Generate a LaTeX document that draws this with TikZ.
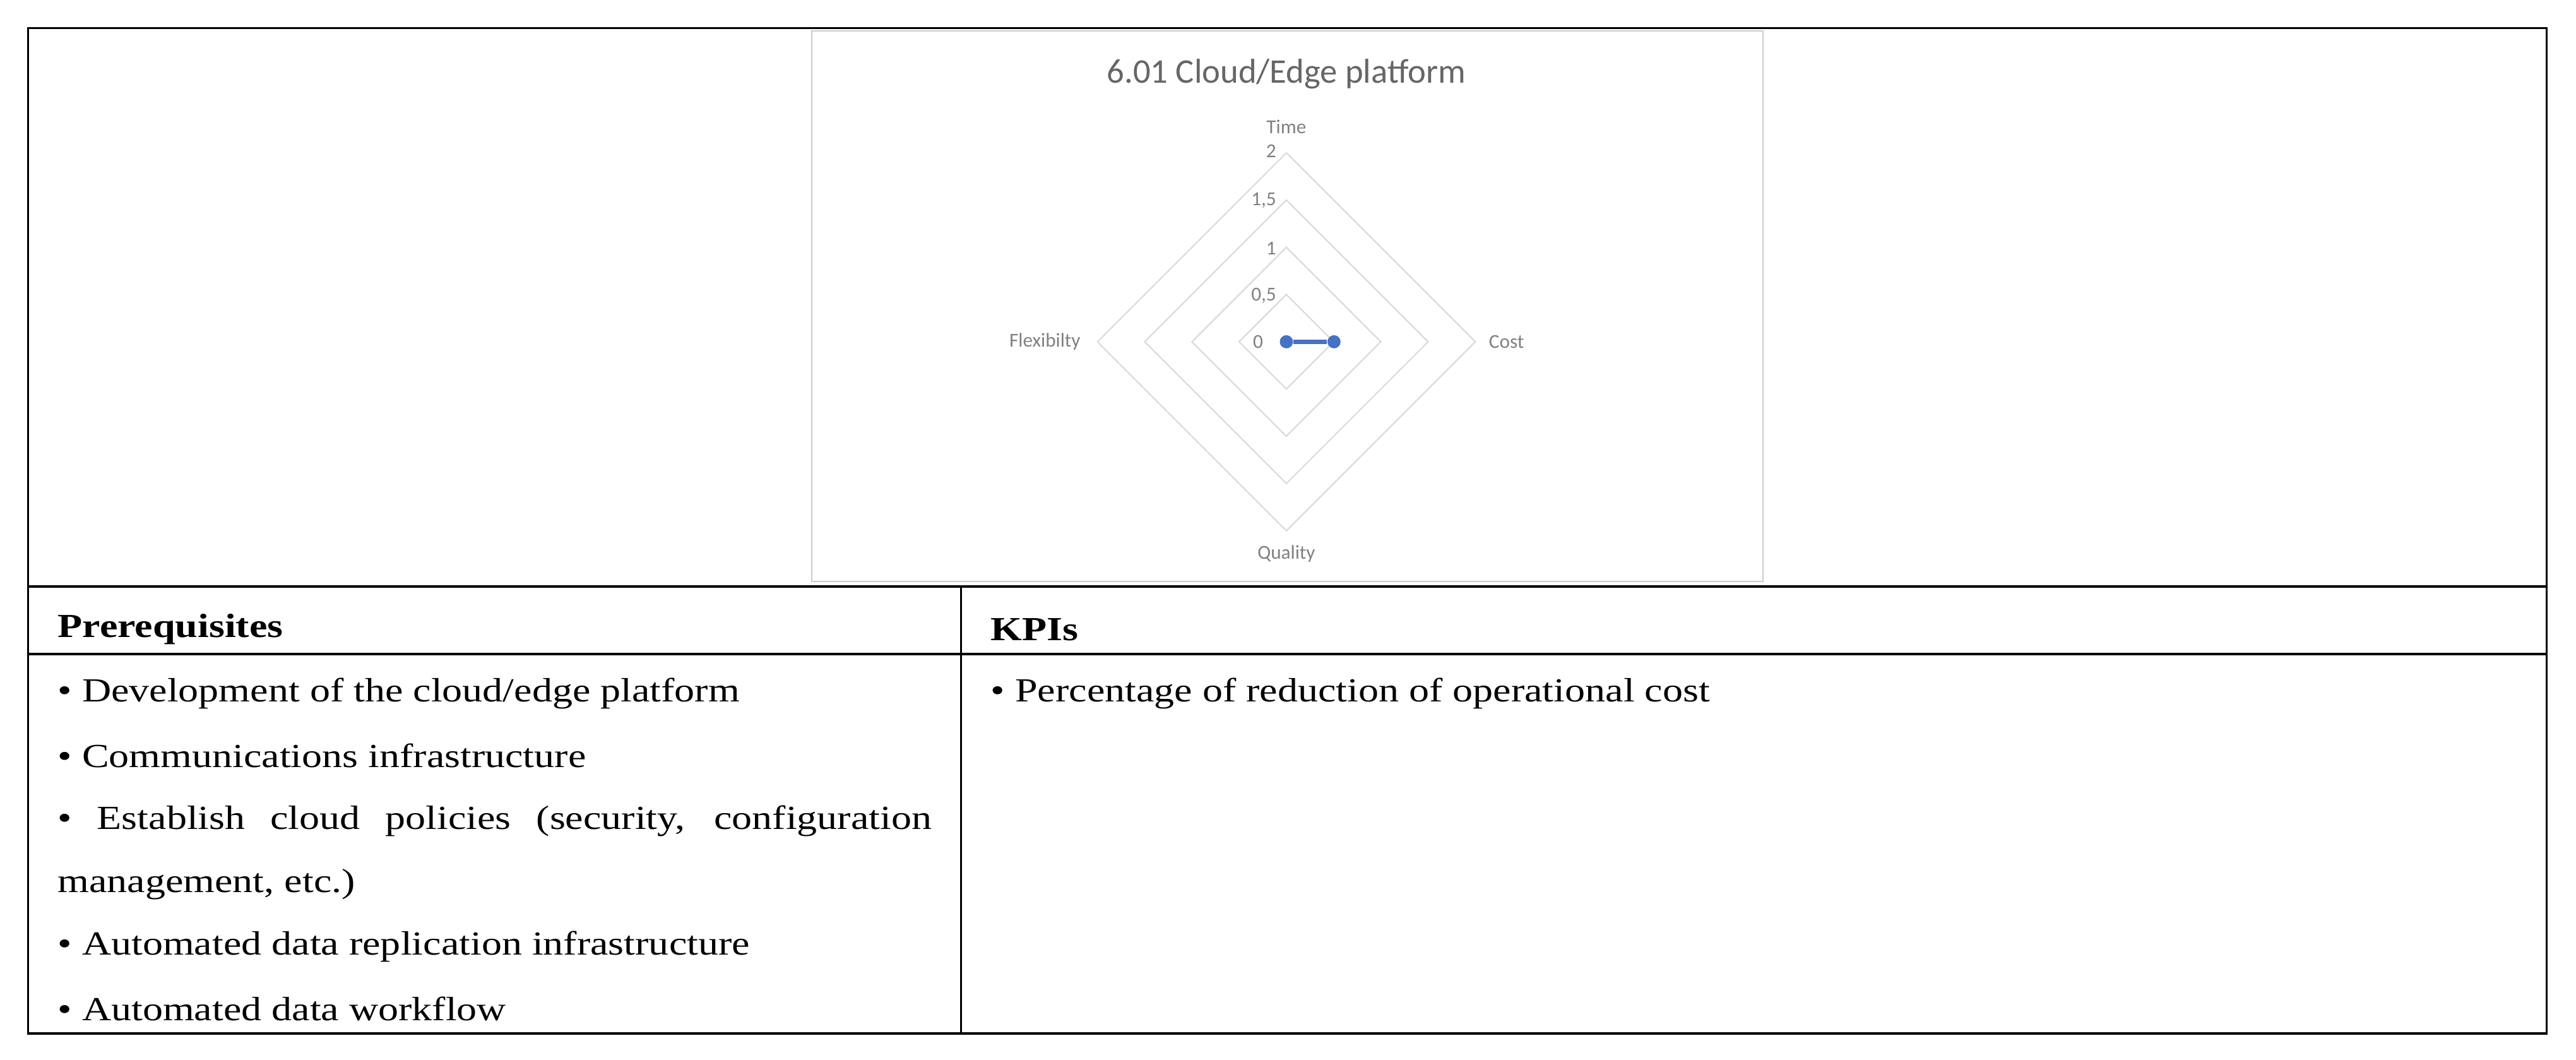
\documentclass[tikz,border=0pt]{standalone}
\usepackage{fontspec}
\usetikzlibrary{calc}
\setmainfont{Liberation Serif}[FakeStretch=1.2]
\newfontfamily\chartfont{Carlito}
\definecolor{serblue}{HTML}{4472C4}
\begin{document}
\begin{tikzpicture}[x=1pt,y=-1pt,
  grid/.style={draw=black!15,line width=0.8pt},
  cl/.style={font=\chartfont\fontsize{12}{14}\selectfont,text=black!50,inner sep=1pt},
  body/.style={font=\fontsize{20.5}{24}\selectfont,anchor=west,inner sep=0pt},
  frame/.style={draw=black,line width=1.3pt}]
\useasboundingbox (0,0) rectangle (1568,645);
% table
\draw[frame] (17,17) rectangle (1550,629);
\draw[frame] (17,357) -- (1550,357);
\draw[frame] (17,398) -- (1550,398);
\draw[frame] (585,357) -- (585,629);
% chart frame
\draw[draw=black!20,line width=0.8pt] (494,19) rectangle (1073,354);
\node[font=\chartfont\fontsize{21}{24}\selectfont,text=black!60] (title) at (783,45) {6.01 Cloud/Edge platform};
\coordinate (c) at (783,208);
\foreach \r in {28.75,57.5,86.25,115}
  \draw[grid] ($(c)+(0,-\r)$) -- ($(c)+(\r,0)$) -- ($(c)+(0,\r)$) -- ($(c)+(-\r,0)$) -- cycle;
\node[cl] (time) at (783,77) {Time};
\node[cl] (cost) at (917,208) {Cost};
\node[cl] (qual) at (783,337) {Quality};
\node[cl] (flex) at (636,208) {Flexibilty};
\node[cl,anchor=east] (t2) at (778,92) {2};
\node[cl,anchor=east] (t15) at (778,122) {1,5};
\node[cl,anchor=east] (t1) at (778,151) {1};
\node[cl,anchor=east] (t05) at (778,180) {0,5};
\node[cl,anchor=east] (t0) at (770,208) {0};
\node[circle,fill=serblue,inner sep=0pt,minimum size=8pt] (p0) at (783,208) {};
\node[circle,fill=serblue,inner sep=0pt,minimum size=8pt] (p1) at (812,208) {};
\draw[draw=serblue,line width=2.5pt] (p0) -- (p1);
% texts
\node[body,font=\bfseries\fontsize{20.5}{24}\selectfont] (pre) at (35,383) {Prerequisites};
\node[body,font=\bfseries\fontsize{20.5}{24}\selectfont] (kpi) at (603,383) {KPIs};
\node[body] (l1) at (35,422) {• Development of the cloud/edge platform};
\node[body] (l2) at (35,460) {• Communications infrastructure};
\node[body,text width=532pt,align=justify,anchor=north west,font=\fontsize{20.5}{38.5}\selectfont] (l3) at (35,490) {• Establish cloud policies (security, configuration\linebreak management, etc.)};
\node[body] (l4) at (35,576) {• Automated data replication infrastructure};
\node[body] (l5) at (35,614) {• Automated data workflow};
\node[body] (k1) at (603,422) {• Percentage of reduction of operational cost};
\end{tikzpicture}
\end{document}
